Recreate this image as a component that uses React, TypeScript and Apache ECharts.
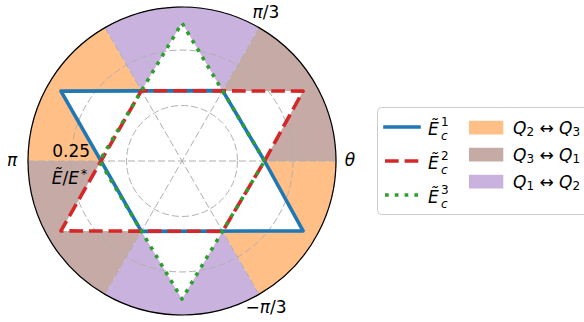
import React, { useEffect, useRef } from 'react';
import * as echarts from 'echarts';

// ---- data ----
const R_MAX = 0.347;
const R_INTERVAL = 0.125;
const ANGLE_INTERVAL = 60;

const curveNames = ['Ẽc1', 'Ẽc2', 'Ẽc3'];
const curve1Angles = [0, 60, 150, 240, 330, 360];
const curve1Radii = [0.186, 0.183, 0.315, 0.183, 0.315, 0.186];
const curve2Angles = [0, 30, 120, 210, 300, 360];
const curve2Radii = [0.186, 0.315, 0.183, 0.315, 0.183, 0.186];
const curve3Angles = [0, 90, 180, 270, 360];
const curve3Radii = [0.186, 0.311, 0.186, 0.311, 0.186];

const regionNames = ['Q2↔Q3', 'Q3↔Q1', 'Q1↔Q2'];
const regionStarts = [
  [120, 300],
  [0, 180],
  [60, 240],
];
const regionSpan = 60;

const angleTickValues = [0, 60, 180, 300];
const angleTickLabels = ['θ', 'π/3', 'π', '−π/3'];
const radiusTickLabel = '0.25';

// ---- styles ----
const FONT = 'DejaVu Sans';
const curveColors = ['#1f77b4', '#d62728', '#2ca02c'];
const curveDash: any[] = ['solid', [13.7, 5.9], [3.7, 6.1]];
const regionColors = ['#ffbf86', '#c5aaa5', '#c9b3de'];
const GRID = '#b0b0b0';

const curves = [
  { a: curve1Angles, r: curve1Radii },
  { a: curve2Angles, r: curve2Radii },
  { a: curve3Angles, r: curve3Radii },
];

function mathRich(label: string) {
  return label
    .split('')
    .map((ch) => (/[θπ]/.test(ch) ? `{i|${ch}}` : `{n|${ch}}`))
    .join('');
}

function buildOption() {
  const series: any[] = [];
  regionNames.forEach((name, i) => {
    series.push({
      type: 'custom',
      name,
      coordinateSystem: 'polar',
      silent: true,
      z: 1,
      data: regionStarts[i].map((s) => [R_MAX, s]),
      renderItem: (params: any, api: any) => {
        const r = api.value(0);
        const a0 = api.value(1);
        const a1 = a0 + regionSpan;
        const c = api.coord([0, 0]);
        const e = api.coord([r, 0]);
        const R = Math.hypot(e[0] - c[0], e[1] - c[1]);
        return {
          type: 'sector',
          shape: {
            cx: c[0],
            cy: c[1],
            r0: 0,
            r: R,
            startAngle: (-a1 * Math.PI) / 180,
            endAngle: (-a0 * Math.PI) / 180,
            clockwise: true,
          },
          style: { fill: regionColors[i] },
        };
      },
    });
  });
  series.push({
    type: 'custom',
    coordinateSystem: 'polar',
    silent: true,
    z: 2,
    data: curves.map(() => [0, 0]),
    renderItem: (params: any, api: any) => {
      const cv = curves[params.dataIndex];
      const pts = cv.a.map((a, j) => api.coord([cv.r[j], a]));
      return { type: 'polygon', shape: { points: pts }, style: { fill: '#ffffff' } };
    },
  });
  curves.forEach((cv, i) => {
    series.push({
      type: 'line',
      name: curveNames[i],
      coordinateSystem: 'polar',
      silent: true,
      z: 5 + i,
      showSymbol: false,
      symbol: 'none',
      data: cv.a.map((a, j) => [cv.r[j], a]),
      lineStyle: {
        color: curveColors[i],
        width: 3.6,
        type: curveDash[i],
        cap: 'butt',
        join: 'round',
      },
    });
  });

  const graphic: any[] = [];
  const txt = (text: string, x: number, y: number, size: number, extra: any = {}) => ({
    type: 'text',
    x,
    y,
    silent: true,
    z: 100,
    style: {
      text,
      fontSize: size,
      fontFamily: FONT,
      fill: '#000',
      align: 'center',
      verticalAlign: 'middle',
      ...extra,
    },
  });
  const richMath = {
    i: { fontFamily: FONT, fontSize: 17, fontStyle: 'italic', fill: '#000' },
    n: { fontFamily: FONT, fontSize: 17, fill: '#000' },
  };
  const anglePos = [
    [350, 160],
    [266, 11.5],
    [12, 160.4],
    [266, 306.5],
  ];
  angleTickLabels.forEach((t, i) => {
    graphic.push(txt(mathRich(t), anglePos[i][0], anglePos[i][1], 17, { rich: richMath }));
  });
  graphic.push(txt(radiusTickLabel, 71.2, 150.8, 17));
  graphic.push(
    txt('{i|Ẽ}{n|/}{i|E}{s|*}', 51.7, 178, 17, {
      align: 'left',
      rich: {
        ...richMath,
        s: { fontFamily: FONT, fontSize: 12, fill: '#000', padding: [0, 0, 9, 2] },
      },
    })
  );

  // legend frame
  graphic.push({
    type: 'rect',
    silent: true,
    z: 90,
    shape: { x: 377.5, y: 107.5, width: 240, height: 107, r: 4 },
    style: { fill: 'rgba(255,255,255,0.8)', stroke: '#cccccc', lineWidth: 1 },
  });
  curves.forEach((_, i) => {
    const y0 = 127 + 34 * i;
    graphic.push({
      type: 'line',
      silent: true,
      z: 100,
      shape: { x1: 385, y1: y0, x2: 419, y2: y0 },
      style: {
        stroke: curveColors[i],
        lineWidth: 3.6,
        lineDash: i === 0 ? null : curveDash[i],
        lineCap: i === 0 ? 'square' : 'butt',
      },
    });
    graphic.push(txt('Ẽ', 428, y0 + 1.5, 17, { align: 'left', fontStyle: 'italic' }));
    graphic.push(
      txt(`{s|${i + 1}}\n{c|c}`, 441, y0 + 1.65, 12, {
        align: 'left',
        lineHeight: 14,
        rich: {
          s: { fontFamily: FONT, fontSize: 12, lineHeight: 14, fill: '#000' },
          c: { fontFamily: FONT, fontSize: 12, lineHeight: 14, fontStyle: 'italic', fill: '#000' },
        },
      })
    );
  });
  regionNames.forEach((name, j) => {
    const yc = 127.7 + 27 * j;
    graphic.push({
      type: 'rect',
      silent: true,
      z: 100,
      shape: { x: 469, y: yc - 6.85, width: 34.3, height: 13.7 },
      style: { fill: regionColors[j] },
    });
    const m = name.match(/Q(\d)↔Q(\d)/)!;
    graphic.push({
      type: 'text',
      x: 513,
      y: yc,
      silent: true,
      z: 100,
      style: {
        text: `{q|Q}{d|${m[1]}}{a| ↔ }{q|Q}{d|${m[2]}}`,
        fontFamily: FONT,
        fontSize: 17,
        align: 'left',
        verticalAlign: 'middle',
        rich: {
          q: { fontFamily: FONT, fontSize: 17, fontStyle: 'italic', fill: '#000' },
          d: { fontFamily: FONT, fontSize: 12, fill: '#000', padding: [8.5, 0, 0, 0] },
          a: { fontFamily: FONT, fontSize: 17, fill: '#000' },
        },
      },
    });
  });

  return {
    animation: false,
    backgroundColor: '#ffffff',
    polar: { center: [182, 161], radius: 154 },
    angleAxis: {
      type: 'value',
      min: 0,
      max: 360,
      interval: ANGLE_INTERVAL,
      startAngle: 0,
      clockwise: false,
      z: 4,
      axisLine: { show: true, lineStyle: { color: '#000', width: 1.2 } },
      axisTick: { show: false },
      axisLabel: {
        show: false,
        formatter: (v: number) => {
          const k = angleTickValues.indexOf(v);
          return k >= 0 ? angleTickLabels[k] : '';
        },
      },
      splitLine: { show: true, lineStyle: { color: GRID, width: 1, type: [7, 3] } },
    },
    radiusAxis: {
      type: 'value',
      min: 0,
      max: R_MAX,
      interval: R_INTERVAL,
      z: 3,
      axisLine: { show: false },
      axisTick: { show: false },
      axisLabel: { show: false },
      splitLine: { show: true, lineStyle: { color: GRID, width: 1, type: [7, 3] } },
    },
    series,
    graphic,
  };
}

export default function App() {
  const ref = useRef<HTMLDivElement>(null);
  useEffect(() => {
    document.body.style.margin = '0';
    if (!ref.current) return;
    const chart = echarts.init(ref.current, undefined, { renderer: 'svg' });
    chart.setOption(buildOption() as any);
    return () => chart.dispose();
  }, []);
  return <div ref={ref} style={{ width: 584, height: 322 }} />;
}
